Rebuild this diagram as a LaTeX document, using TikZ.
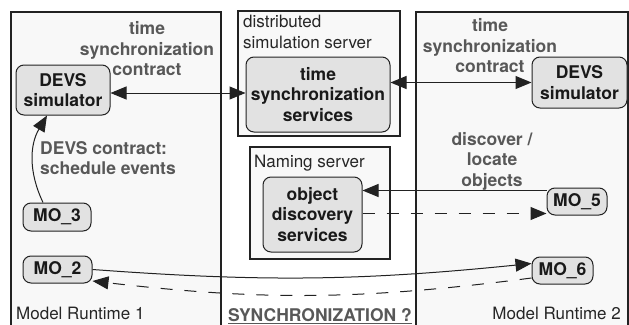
\documentclass[tikz,border=0pt]{standalone}
\usepackage{fontspec}
\setmainfont{TeX Gyre Heros}
\usetikzlibrary{arrows.meta}
\definecolor{boxfill}{HTML}{F8F8F8}
\definecolor{nodefill}{HTML}{E2E2E2}
\definecolor{linecol}{HTML}{222222}
\definecolor{labgray}{HTML}{585858}
\tikzset{
  every node/.style={font=\fontsize{17}{20.5}\selectfont},
  region/.style={draw=linecol, line width=1.3pt, fill=boxfill},
  obj/.style={draw=linecol, line width=1pt, fill=nodefill, rounded corners=8pt,
    align=center, inner sep=0pt, text=black!90, font=\fontsize{17.5}{20.5}\selectfont\bfseries},
  lab/.style={text=labgray, align=center, inner sep=0pt, font=\fontsize{17.5}{20.5}\selectfont\bfseries},
  plain/.style={text=black!85, align=left, inner sep=0pt},
  conn/.style={draw=linecol, line width=1pt},
  tip/.style={-{Triangle[length=16pt,width=13pt]}},
  twotip/.style={{Triangle[length=16pt,width=13pt]}-{Triangle[length=16pt,width=13pt]}},
  dashconn/.style={conn, dash pattern=on 12pt off 12pt}
}
\begin{document}
\begin{tikzpicture}[x=1pt,y=-1pt]
\useasboundingbox (0,0) rectangle (629,324);
\fill[white] (0,0) rectangle (629,324);
% regions
\draw[region] (11,340) -- (11,12) -- (221,12) -- (221,340);
\draw[region] (416,340) -- (416,12) -- (628,12) -- (628,340);
\draw[region] (238,11) rectangle (400,136);
\draw[region] (250,147) rectangle (390,259);
% region labels
\node[plain, anchor=north west] (dss) at (243,15) {distributed\\simulation server};
\node[plain, anchor=west] (ns) at (254,163) {Naming server};
\node[plain, anchor=west] (mr1) at (16,313) {Model Runtime 1};
\node[plain, anchor=east] (mr2) at (621,313) {Model Runtime 2};
% objects
\node[obj, minimum width=94pt, minimum height=50pt] (devsL) at (63,90) {DEVS\\simulator};
\node[obj, minimum width=144pt, minimum height=75pt] (tss) at (318,94.5) {time\\synchronization\\services};
\node[obj, minimum width=95pt, minimum height=51pt] (devsR) at (579.5,82.5) {DEVS\\simulator};
\node[obj, minimum width=68pt, minimum height=28pt] (mo3) at (57,217) {MO\_3};
\node[obj, minimum width=69pt, minimum height=27pt] (mo2) at (57.5,269.5) {MO\_2};
\node[obj, minimum width=99pt, minimum height=75pt] (ods) at (312.5,214.5) {object\\discovery\\services};
\node[obj, minimum width=60pt, minimum height=27pt] (mo5) at (577,201.5) {MO\_5};
\node[obj, minimum width=61pt, minimum height=27pt] (mo6) at (562.5,270.5) {MO\_6};
% labels
\node[lab] (tsc1) at (147,49) {time\\synchronization\\contract};
\node[lab] (tsc2) at (490,46) {time\\synchronization\\contract};
\node[lab, align=left, anchor=north west] (dc) at (40,141) {DEVS contract:\\schedule events};
\node[lab] (dlo) at (492,161) {discover /\\locate\\objects};
\node[lab] (sync) at (320,316) {\underline{SYNCHRONIZATION ?}};
% connectors
\coordinate (aL) at ([yshift=-3pt]devsL.east);
\draw[conn, twotip] (aL) -- (aL -| tss.west);
\draw[conn, twotip] (tss.east |- devsR.west) -- (devsR.west);
\draw[conn, tip] ([xshift=-14pt]mo3.north) to[bend left=28] ([xshift=-16pt]devsL.south);
\coordinate (m5a) at ([yshift=11pt]mo5.west);
\draw[conn, tip] (m5a) -- (m5a -| ods.east);
\coordinate (m5b) at ([yshift=1pt]ods.east);
\draw[dashconn, tip] (m5b) -- (m5b -| mo5.west);
\draw[conn, tip] (mo2.east) to[bend right=5] ([yshift=7pt]mo6.west);
\draw[dashconn, tip] ([yshift=-7.5pt]mo6.west) to[bend left=7] ([yshift=-11.5pt]mo2.east);
\end{tikzpicture}
\end{document}
